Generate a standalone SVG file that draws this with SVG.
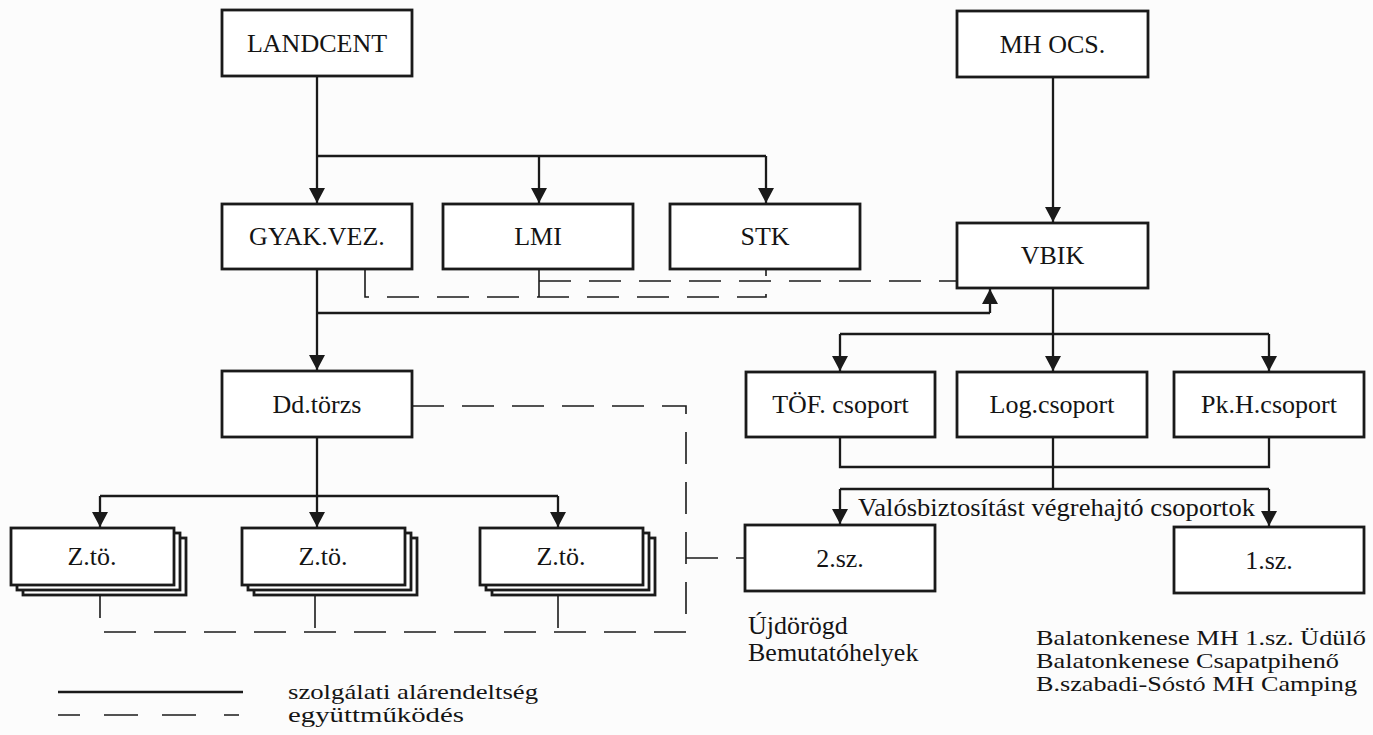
<svg xmlns="http://www.w3.org/2000/svg" width="1373" height="735" viewBox="0 0 1373 735">
<defs>
<marker id="arr" viewBox="0 0 15 16" refX="15" refY="8" markerWidth="15" markerHeight="16" markerUnits="userSpaceOnUse" orient="auto">
<path d="M0,0 L15,8 L0,16 z" fill="#1a1a1a"/>
</marker>
<style>
.box{fill:#fff;stroke:#1a1a1a;stroke-width:2.8}
.lbl{font-family:"Liberation Serif","Times New Roman",serif;font-size:26px;fill:#141414;text-anchor:middle}
.txt{font-family:"Liberation Serif","Times New Roman",serif;font-size:26px;fill:#141414}
.note{font-family:"Liberation Serif","Times New Roman",serif;font-size:21px;fill:#141414}
.solid{fill:none;stroke:#1a1a1a;stroke-width:2.3}
.arrow{fill:none;stroke:#1a1a1a;stroke-width:2.3;marker-end:url(#arr)}
.dash{fill:none;stroke:#1a1a1a;stroke-width:1.6;stroke-dasharray:32 18}
</style>
</defs>
<rect width="1373" height="735" fill="#fcfcfc"/>

<g id="connectors">
<!-- LANDCENT tree -->
<path class="arrow" d="M317,76 V203"/>
<path class="solid" d="M317,156 H766"/>
<path class="arrow" d="M539,156 V203"/>
<path class="arrow" d="M766,156 V203"/>
<!-- GYAK down -->
<path class="arrow" d="M317,269 V370"/>
<path class="solid" d="M317,313 H990"/>
<path class="arrow" d="M990,313 V289"/>
<!-- MH OCS -->
<path class="arrow" d="M1053,77 V222"/>
<!-- VBIK down -->
<path class="arrow" d="M1053,288 V371"/>
<path class="solid" d="M840,334 H1269"/>
<path class="arrow" d="M840,334 V371"/>
<path class="arrow" d="M1269,334 V371"/>
<!-- groups to execution -->
<path class="solid" d="M840,437 V467 H1269 V437"/>
<path class="solid" d="M1053,437 V489"/>
<path class="solid" d="M840,489 H1269"/>
<path class="arrow" d="M840,489 V524"/>
<path class="arrow" d="M1269,489 V526"/>
<!-- Dd.torzs down -->
<path class="arrow" d="M317,437 V527"/>
<path class="solid" d="M100,496 H558"/>
<path class="arrow" d="M100,496 V527"/>
<path class="arrow" d="M558,496 V527"/>
<!-- cooperation (dashed) -->
<path class="dash" d="M365,269 V297 H766 V269"/>
<path class="dash" d="M539,269 V297"/>
<path class="dash" d="M539,281 H957"/>
<path class="dash" d="M412,406 H686 V632 H100 V596"/>
<path class="dash" d="M315,596 V632"/>
<path class="dash" d="M558,596 V632"/>
<path class="dash" d="M686,558 H745"/>
</g>

<g id="landcent"><rect class="box" x="222" y="10" width="190" height="66"/><text class="lbl" x="317" y="52">LANDCENT</text></g>
<g id="mhocs"><rect class="box" x="957" y="11" width="191" height="66"/><text class="lbl" x="1052.5" y="53">MH OCS.</text></g>
<g id="gyakvez"><rect class="box" x="222" y="204" width="190" height="65"/><text class="lbl" x="317" y="245">GYAK.VEZ.</text></g>
<g id="lmi"><rect class="box" x="443" y="204" width="190" height="65"/><text class="lbl" x="538" y="245">LMI</text></g>
<g id="stk"><rect class="box" x="670" y="204" width="190" height="65"/><text class="lbl" x="765" y="245">STK</text></g>
<g id="vbik"><rect class="box" x="957" y="223" width="191" height="65"/><text class="lbl" x="1052.5" y="264">VBIK</text></g>
<g id="ddtorzs"><rect class="box" x="222" y="371" width="190" height="66"/><text class="lbl" x="317" y="413">Dd.törzs</text></g>
<g id="tof"><rect class="box" x="746" y="372" width="189" height="65"/><text class="lbl" x="840.5" y="413">TÖF. csoport</text></g>
<g id="log"><rect class="box" x="957" y="372" width="190" height="65"/><text class="lbl" x="1052" y="413">Log.csoport</text></g>
<g id="pkh"><rect class="box" x="1174" y="372" width="190" height="65"/><text class="lbl" x="1269" y="413">Pk.H.csoport</text></g>

<g id="zto1">
<rect class="box" x="23" y="538" width="163" height="57"/>
<rect class="box" x="17" y="533" width="163" height="57"/>
<rect class="box" x="11" y="528" width="163" height="57"/>
<text class="lbl" x="92" y="565">Z.tö.</text></g>
<g id="zto2">
<rect class="box" x="254" y="538" width="163" height="57"/>
<rect class="box" x="248" y="533" width="163" height="57"/>
<rect class="box" x="242" y="528" width="163" height="57"/>
<text class="lbl" x="323" y="565">Z.tö.</text></g>
<g id="zto3">
<rect class="box" x="492" y="538" width="163" height="57"/>
<rect class="box" x="486" y="533" width="163" height="57"/>
<rect class="box" x="480" y="528" width="163" height="57"/>
<text class="lbl" x="561" y="565">Z.tö.</text></g>

<g id="sz2"><rect class="box" x="745" y="525" width="190" height="66"/><text class="lbl" x="840" y="567">2.sz.</text></g>
<g id="sz1"><rect class="box" x="1174" y="527" width="190" height="66"/><text class="lbl" x="1269" y="569">1.sz.</text></g>

<text class="txt" x="858" y="516" textLength="397" lengthAdjust="spacingAndGlyphs">Valósbiztosítást végrehajtó csoportok</text>

<text class="txt" x="748" y="634">Újdörögd</text>
<text class="txt" x="748" y="661">Bemutatóhelyek</text>

<text class="note" x="1036" y="645" textLength="330" lengthAdjust="spacingAndGlyphs">Balatonkenese MH 1.sz. Üdülő</text>
<text class="note" x="1036" y="668" textLength="303" lengthAdjust="spacingAndGlyphs">Balatonkenese Csapatpihenő</text>
<text class="note" x="1036" y="691" textLength="321" lengthAdjust="spacingAndGlyphs">B.szabadi-Sóstó MH Camping</text>

<g id="legend">
<line class="solid" x1="58" y1="692" x2="243" y2="692"/>
<line x1="58" y1="715" x2="243" y2="715" style="stroke:#1a1a1a;stroke-width:1.6;stroke-dasharray:22 24 34 24 34 28 15"/>
<text class="note" x="288" y="699" textLength="250" lengthAdjust="spacingAndGlyphs">szolgálati alárendeltség</text>
<text class="note" x="288" y="722" textLength="176" lengthAdjust="spacingAndGlyphs">együttműködés</text>
</g>
</svg>
